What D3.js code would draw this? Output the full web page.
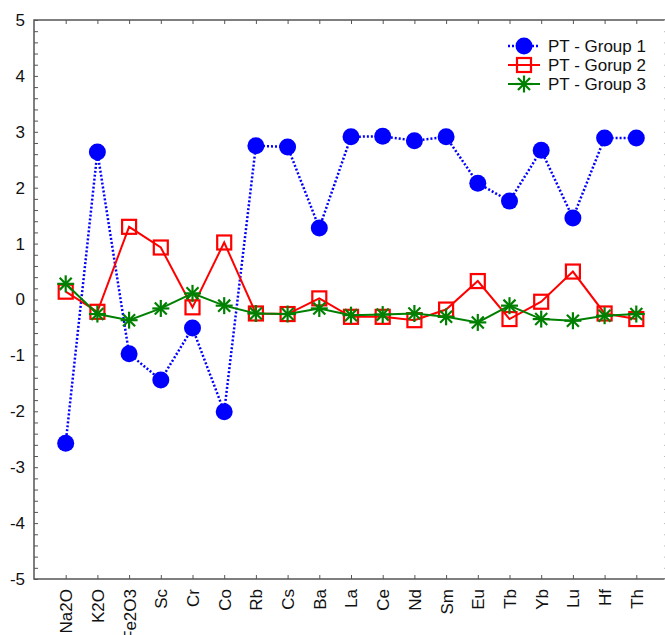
<!DOCTYPE html>
<html>
<head>
<meta charset="utf-8">
<script src="https://cdn.jsdelivr.net/npm/d3@7"></script>
<style>
  body { margin: 0; background: #fff; overflow: hidden; }
  text { font-family: "Liberation Sans", Arial, sans-serif; }
</style>
</head>
<body>
<div id="c"></div>
<script>
"use strict";

const elements = ["Na2O","K2O","Fe2O3","Sc","Cr","Co","Rb","Cs","Ba","La","Ce","Nd","Sm","Eu","Tb","Yb","Lu","Hf","Th"]
const group1 = [-2.57, 2.64, -0.97, -1.44, -0.51, -2.01, 2.75, 2.73, 1.28, 2.91, 2.92, 2.84, 2.91, 2.08, 1.76, 2.67, 1.46, 2.89, 2.89]
const group2 = [0.14, -0.22, 1.30, 0.93, -0.14, 1.02, -0.25, -0.26, 0.02, -0.31, -0.31, -0.37, -0.18, 0.33, -0.35, -0.04, 0.50, -0.25, -0.35]
const group3 = [0.28, -0.26, -0.37, -0.16, 0.11, -0.11, -0.25, -0.26, -0.16, -0.28, -0.27, -0.25, -0.31, -0.41, -0.11, -0.35, -0.38, -0.29, -0.26]
const seriesNames = ["PT - Group 1", "PT - Gorup 2", "PT - Group 3"]
const yTicks = [-5,-4,-3,-2,-1,0,1,2,3,4,5]

const width = 665, height = 635
const margin = {top: 20, right: -3, bottom: 56, left: 34}
const w = width - margin.left - margin.right
const h = height - margin.top - margin.bottom

const svg = d3.select('#c').append('svg')
    .attr('width', width).attr('height', height)
const g = svg.append('g')
    .attr('transform', 'translate(' + margin.left + ',' + margin.top + ')')

const xScale = d3.scalePoint().domain(elements).range([0, w]).padding(1)
const yScale = d3.scaleLinear().domain([-5, 5]).range([h, 0])

const axisColor = '#555'
const font = '"Liberation Sans", Arial, sans-serif'

// frame
g.append('rect')
    .attr('x', 0).attr('y', 0).attr('width', w).attr('height', h)
    .attr('fill', 'none').attr('stroke', axisColor).attr('stroke-width', 1.5)

// y ticks (major + minor), on both sides, pointing inward
const minor = d3.range(-5, 5.001, 0.2)
const yAxisL = g.append('g')
    .call(d3.axisLeft(yScale).tickValues(minor).tickSize(-4).tickFormat(''))
yAxisL.select('.domain').remove()
yAxisL.selectAll('line').attr('stroke', axisColor)
const yAxisR = g.append('g').attr('transform', 'translate(' + w + ',0)')
    .call(d3.axisRight(yScale).tickValues(minor).tickSize(-4).tickFormat(''))
yAxisR.select('.domain').remove()
yAxisR.selectAll('line').attr('stroke', '#bbb')

const yLabels = g.append('g')
    .call(d3.axisLeft(yScale).tickValues(yTicks).tickSize(0).tickPadding(9).tickFormat(d => String(d)))
yLabels.select('.domain').remove()
yLabels.selectAll('text').attr('font-size', '17px').attr('fill', '#111')
    .attr('font-family', font)

// x axis bottom
const xAxis = g.append('g').attr('transform', 'translate(0,' + h + ')')
    .call(d3.axisBottom(xScale).tickSize(-4).tickPadding(10))
xAxis.select('.domain').remove()
xAxis.selectAll('line').attr('stroke', axisColor)
xAxis.selectAll('text')
    .attr('font-size', '17px').attr('fill', '#111')
    .attr('font-family', font)
    .attr('transform', 'rotate(-90)')
    .attr('text-anchor', 'end')
    .attr('x', -10).attr('y', 0).attr('dy', '0.35em')

// x ticks top
const xTop = g.append('g')
    .call(d3.axisTop(xScale).tickSize(-4).tickFormat(''))
xTop.select('.domain').remove()
xTop.selectAll('line').attr('stroke', axisColor)

// markers
function circleMark(sel, color) {
    sel.append('circle').attr('r', 8.5).attr('fill', color)
}
function squareMark(sel, color) {
    sel.append('rect').attr('x', -7).attr('y', -7).attr('width', 14).attr('height', 14)
        .attr('fill', 'none').attr('stroke', color).attr('stroke-width', 2.2)
}
function starMark(sel, color) {
    const r = 8.5
    d3.range(4).forEach(i => {
        const a = i * Math.PI / 4
        sel.append('line')
            .attr('x1', -r * Math.cos(a)).attr('y1', -r * Math.sin(a))
            .attr('x2', r * Math.cos(a)).attr('y2', r * Math.sin(a))
            .attr('stroke', color).attr('stroke-width', 2.2)
    })
}

const series = [
    {name: seriesNames[0], values: group1, color: '#0000ff', dash: '2,2', lw: 2.5, mark: circleMark},
    {name: seriesNames[1], values: group2, color: '#ff0000', dash: null, lw: 2, mark: squareMark},
    {name: seriesNames[2], values: group3, color: '#008000', dash: null, lw: 2, mark: starMark}
]

series.forEach(s => {
    const pts = elements.map((e, i) => ({e: e, v: s.values[i]}))
    g.append('path')
        .datum(pts)
        .attr('fill', 'none')
        .attr('stroke', s.color)
        .attr('stroke-width', s.lw)
        .attr('stroke-dasharray', s.dash)
        .attr('d', d3.line().x(d => xScale(d.e)).y(d => yScale(d.v)))
    pts.forEach(d => {
        const m = g.append('g')
            .attr('transform', 'translate(' + xScale(d.e) + ',' + yScale(d.v) + ')')
        s.mark(m, s.color)
    })
})

// legend
const legend = svg.append('g').attr('transform', 'translate(508,46)')
series.forEach((s, i) => {
    const item = legend.append('g').attr('transform', 'translate(0,' + i * 19 + ')')
    item.append('line')
        .attr('x1', 0).attr('x2', 32).attr('y1', 0).attr('y2', 0)
        .attr('stroke', s.color).attr('stroke-width', s.lw)
        .attr('stroke-dasharray', s.dash)
    const m = item.append('g').attr('transform', 'translate(16,0)')
    s.mark(m, s.color)
    item.append('text')
        .attr('x', 40).attr('y', 0).attr('dy', '0.35em')
        .attr('font-size', '17px').attr('fill', '#111')
        .text(s.name)
})
</script>
</body>
</html>
